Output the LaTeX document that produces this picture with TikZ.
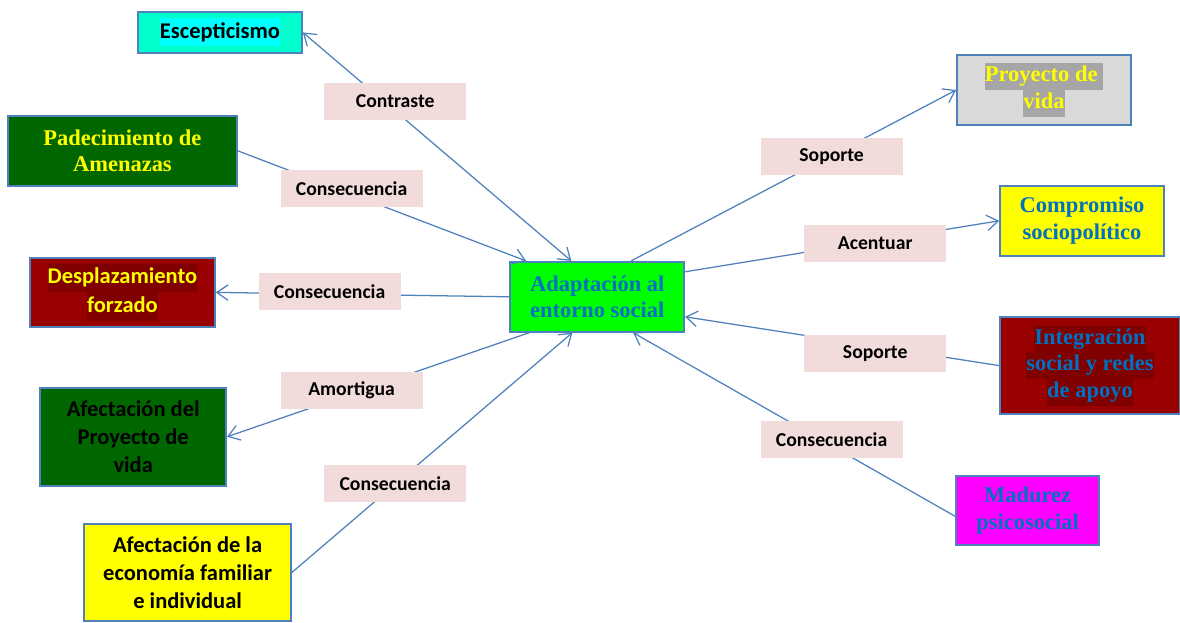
\documentclass[tikz,border=0pt]{standalone}
\usepackage{fontspec}
\setmainfont{Liberation Serif}
\newfontfamily\calibri{Carlito}
\usepackage{xcolor}
\usepackage{tikz}
\usetikzlibrary{arrows.meta}

\definecolor{marco}{HTML}{4F81BD}
\definecolor{rosa}{HTML}{F2DCDB}
\definecolor{turquesa}{HTML}{00FFCC}
\definecolor{celeste}{HTML}{00FFFF}
\definecolor{verdeosc}{HTML}{006600}
\definecolor{rojoosc}{HTML}{990000}
\definecolor{granate}{HTML}{800000}
\definecolor{verdecla}{HTML}{00FF00}
\definecolor{grisclaro}{HTML}{D9D9D9}
\definecolor{grisosc}{HTML}{A6A6A6}
\definecolor{amarillo}{HTML}{FFFF00}
\definecolor{magenta2}{HTML}{FF00FF}
\definecolor{azultxt}{HTML}{0070C0}

% text highlight behind a line
\newcommand{\resalta}[2]{{\setlength{\fboxsep}{0pt}\colorbox{#1}{\strut #2}}}

\begin{document}
\begin{tikzpicture}[
    caja/.style={draw=marco, line width=1.2pt, rectangle, align=center, inner sep=2pt},
    serifb/.style={caja, font=\fontsize{16}{19}\selectfont\bfseries},
    sansb/.style={caja, font=\calibri\fontsize{16}{20}\selectfont\bfseries},
    etiq/.style={fill=rosa, rectangle, minimum width=3.55cm, minimum height=0.925cm,
                 font=\calibri\fontsize{14}{16}\selectfont\bfseries},
    link/.style={marco, line width=0.9pt, -{Straight Barb[length=8pt, width=11pt]}},
    dlink/.style={marco, line width=0.9pt, {Straight Barb[length=8pt, width=11pt]}-{Straight Barb[length=8pt, width=11pt]}},
]
\useasboundingbox (0,0) rectangle (29.5,15.55);

% === Central node ===
\node[serifb, fill=verdecla, text=azultxt, minimum width=4.35cm, minimum height=1.75cm]
    (cen) at (14.93, 8.13) {Adaptación al\\entorno social};

% === Left side ===
\node[sansb, fill=turquesa, text=black, minimum width=4.1cm, minimum height=1.025cm]
    (esc) at (5.5, 14.74) {\resalta{celeste}{Escepticismo}};
\node[serifb, fill=verdeosc, text=amarillo, minimum width=5.725cm, minimum height=1.75cm]
    (pad) at (3.06, 11.78) {Padecimiento de\\Amenazas};
\node[sansb, fill=rojoosc, text=amarillo, minimum width=4.625cm, minimum height=1.725cm]
    (des) at (3.06, 8.24) {\resalta{granate}{Desplazamiento}\\\resalta{granate}{forzado}};
\node[sansb, fill=verdeosc, text=black, minimum width=4.65cm, minimum height=2.45cm]
    (afp) at (3.33, 4.63) {Afectación del\\Proyecto de\\vida};
\node[sansb, fill=amarillo, text=black, minimum width=5.175cm, minimum height=2.425cm]
    (afe) at (4.69, 1.24) {Afectación de la\\economía familiar\\e individual};

% === Right side ===
\node[serifb, fill=grisclaro, text=amarillo, minimum width=4.35cm, minimum height=1.75cm]
    (pro) at (26.1, 13.3) {\resalta{grisosc}{Proyecto de }\\\resalta{grisosc}{vida}};
\node[serifb, fill=amarillo, text=azultxt, minimum width=4.1cm, minimum height=1.75cm]
    (com) at (27.05, 10.03) {Compromiso\\sociopolítico};
\node[serifb, fill=rojoosc, text=azultxt, minimum width=4.5cm, minimum height=2.425cm]
    (int) at (27.25, 6.41) {\resalta{granate}{Integración}\\\resalta{granate}{social y redes}\\\resalta{granate}{de apoyo}};
\node[serifb, fill=magenta2, text=azultxt, minimum width=3.575cm, minimum height=1.725cm]
    (mad) at (25.69, 2.79) {Madurez\\psicosocial};

% === Connectors ===
\draw[dlink] (esc.east) -- ([xshift=1.55cm]cen.north west);
\draw[link] (pad.east) -- ([xshift=0.42cm]cen.north west);
\draw[link] (cen.west) -- (des.east);
\draw[link] ([xshift=0.5cm]cen.south west) -- (afp.east);
\draw[link] (afe.east) -- ([xshift=1.575cm]cen.south west);
\draw[link] ([xshift=-1.35cm]cen.north east) -- (pro.west);
\draw[link] ([yshift=0.625cm]cen.east) -- (com.west);
\draw[link] (int.west) -- ([yshift=-0.5cm]cen.east);
\draw[link] ([yshift=-0.15cm]mad.west) -- ([xshift=-1.3cm]cen.south east);

% === Relation labels ===
\node[etiq] (l1) at (9.88, 13.01) {Contraste};
\node[etiq] (l2) at (8.79, 10.83) {Consecuencia};
\node[etiq] (l3) at (8.24, 8.26) {Consecuencia};
\node[etiq] (l4) at (8.79, 5.80) {Amortigua};
\node[etiq] (l5) at (9.88, 3.46) {Consecuencia};
\node[etiq] (r1) at (20.79, 11.64) {Soporte};
\node[etiq] (r2) at (21.88, 9.46) {Acentuar};
\node[etiq] (r3) at (21.88, 6.71) {Soporte};
\node[etiq] (r4) at (20.79, 4.56) {Consecuencia};

\end{tikzpicture}
\end{document}
